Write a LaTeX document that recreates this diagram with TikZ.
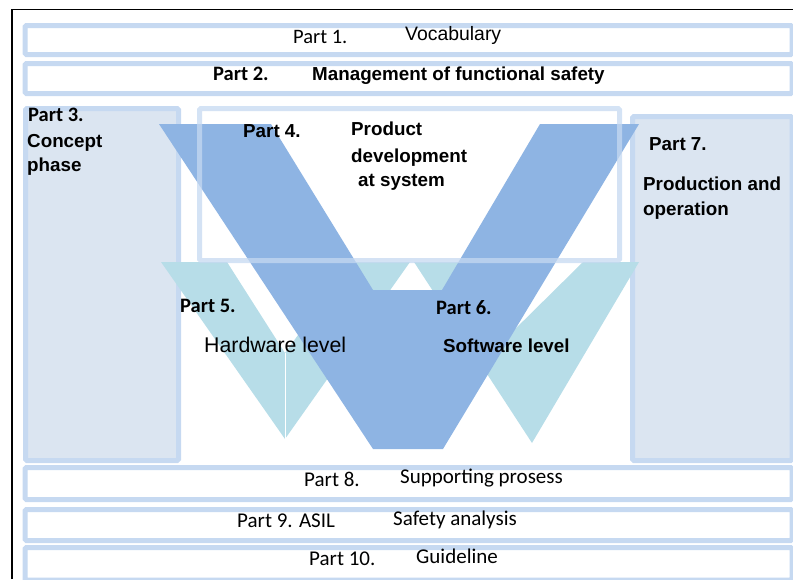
\documentclass[tikz,border=0pt]{standalone}
\usepackage{fontspec}
\setmainfont{Carlito}
\newfontfamily\gothic{Liberation Sans}
\definecolor{bandline}{HTML}{C6D9F1}
\definecolor{boxfill}{HTML}{DBE5F1}
\definecolor{vdark}{HTML}{8EB4E3}
\definecolor{vlight}{HTML}{B7DDE8}
\begin{document}
\begin{tikzpicture}[x=1pt,y=-1pt,
    band/.style={draw=bandline,line width=5pt,rounded corners=1.5pt},
    lbl/.style={anchor=base west,inner sep=0pt,font=\fontsize{20.5}{24}\selectfont},
    lblb/.style={lbl,font=\fontsize{20.5}{24}\selectfont\bfseries},
    goth/.style={anchor=base west,inner sep=0pt,font=\gothic\fontsize{18.8}{22}\selectfont\bfseries},
    low/.style={anchor=base west,inner sep=0pt,font=\fontsize{21}{24}\selectfont}]
\useasboundingbox (0,0) rectangle (793,579);
% frame
\draw[line width=1.5pt] (12,579) -- (12,9.5) -- (793,9.5);
% horizontal bands
\foreach \ya/\yb in {25.5/54.5,63.5/93.5,467.5/499.5,509.5/540.5,547.5/580}
  \draw[band,fill=white] (25,\ya) rectangle (792,\yb);
% side boxes
\draw[band,fill=boxfill] (25.5,108.5) rectangle (178.5,460.5);
\draw[band,fill=boxfill] (632.5,116.5) rectangle (792,460.5);
\fill[white] (199.5,108.5) rectangle (619.5,260.5);
% the V shapes
\fill[vlight] (161,262) -- (227,262) -- (285,353) -- (351,262) -- (410,262) -- (285,439) -- cycle;
\fill[vlight] (414,262) -- (460,262) -- (505,339) -- (583,262) -- (639,262) -- (532,443) -- cycle;
\draw[white,line width=0.6pt] (285,353) -- (285,439);
\fill[vdark] (159,124) -- (271,124) -- (373,290) -- (442,290) -- (540,124) -- (639,124) -- (443,449) -- (373,449) -- cycle;
\draw[band,opacity=0.75] (199.5,108.5) rectangle (619.5,260.5);
% labels
\node[lbl] (p1) at (293,43.3) {Part 1.};
\node[anchor=base west,inner sep=0pt,font=\gothic\fontsize{19.4}{22}\selectfont] (vocab) at (405,40) {Vocabulary};
\node[lblb] (p2) at (213,80) {Part 2.};
\node[goth] (mgmt) at (312,80) {Management of functional safety};
\node[lblb] (p3) at (28,121) {Part 3.};
\node[goth] (concept) at (27,147) {Concept};
\node[goth] (phase) at (27,171) {phase};
\node[goth] (p4) at (243,137) {Part 4.};
\node[goth] (prod) at (351,135) {Product};
\node[goth] (devel) at (351,162) {development};
\node[goth] (atsys) at (358,186) {at system};
\node[goth] (p7) at (649,150) {Part 7.};
\node[goth] (prodop) at (643,190) {Production and};
\node[goth] (oper) at (643,215) {operation};
\node[lblb] (p5) at (180,312) {Part 5.};
\node[anchor=base west,inner sep=0pt,font=\gothic\fontsize{21.3}{24}\selectfont] (hw) at (204,352) {Hardware level};
\node[lblb] (p6) at (436,314) {Part 6.};
\node[goth] (sw) at (443,352) {Software level};
\node[low] (p8) at (304,486.5) {Part 8.};
\node[low] (supp) at (400,483.5) {Supporting prosess};
\node[low] (p9) at (237,527.5) {Part 9. ASIL};
\node[low] (safety) at (393,525.5) {Safety analysis};
\node[low] (p10) at (309,565) {Part 10.};
\node[low] (guide) at (416,563.5) {Guideline};
\end{tikzpicture}
\end{document}
